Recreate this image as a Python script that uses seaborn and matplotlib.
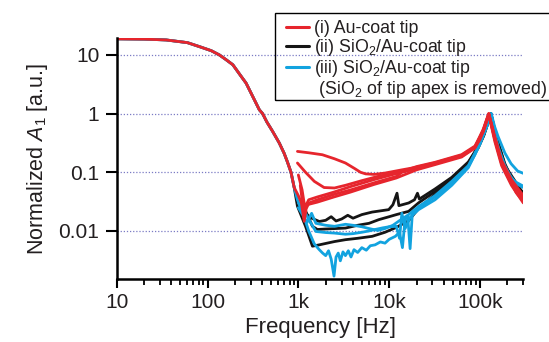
import numpy as np
import pandas as pd
import seaborn as sns
import matplotlib
matplotlib.use("Agg")
import matplotlib.pyplot as plt
from matplotlib.lines import Line2D
from matplotlib.patches import Rectangle
from matplotlib.ticker import FixedLocator, NullLocator, LogLocator

sns.set_theme(style="ticks")
plt.rcParams["font.family"] = ["Liberation Sans", "DejaVu Sans"]
plt.rcParams["mathtext.fontset"] = "custom"
plt.rcParams["mathtext.rm"] = "Liberation Sans"
plt.rcParams["mathtext.it"] = "Liberation Sans:italic"
plt.rcParams["mathtext.bf"] = "Liberation Sans:bold"

# common low-pass part (< 1 kHz)
f_lp = [10, 20, 35, 60, 82, 110, 135, 160, 190, 230, 266, 310, 372, 404, 450,
        520, 617, 698, 758, 830, 900]
a_lp = [18.8, 18.6, 18.0, 16.2, 13.8, 11.8, 10.0, 8.3, 6.8, 4.5, 3.3, 2.05, 1.16,
        1.0, 0.72, 0.5, 0.315, 0.21, 0.15, 0.1, 0.055]

# (i) Au-coat tip
f_r1 = f_lp + [1000, 1080, 1160, 1220, 1310, 1620, 2470, 3760, 6800, 12000, 13800,
               20000, 32000, 62800, 88000, 100000, 109000, 118000, 125000, 135000,
               146000, 160000, 173000, 195000, 222000, 250000, 300000]
a_r1 = a_lp + [0.04, 0.03, 0.0146, 0.024, 0.03, 0.034, 0.042, 0.05, 0.066, 0.085, 0.1,
               0.118, 0.14, 0.19, 0.27, 0.36, 0.53, 0.78, 1.0, 0.6,
               0.36, 0.22, 0.144, 0.095, 0.066, 0.045, 0.032]
f_r2 = [977, 1300, 1840, 2500, 3300, 4200, 4840, 5500, 6800, 9000, 13800, 20000, 32000,
        62800, 88000, 109000, 125000, 146000, 173000, 222000, 300000]
a_r2 = [0.227, 0.215, 0.199, 0.17, 0.144, 0.115, 0.1, 0.094, 0.092, 0.097, 0.11, 0.122,
        0.145, 0.195, 0.27, 0.55, 1.0, 0.38, 0.15, 0.07, 0.036]
f_r3 = [977, 1200, 1500, 1920, 2500, 3300, 5000, 7500, 10000, 16400, 32000, 62800,
        88000, 109000, 125000, 146000, 173000, 222000, 300000]
a_r3 = [0.144, 0.1, 0.07, 0.055, 0.054, 0.06, 0.072, 0.085, 0.093, 0.108, 0.142, 0.187,
        0.26, 0.5, 0.99, 0.36, 0.14, 0.064, 0.035]
f_r4 = [1000, 1100, 1180, 1300, 1620, 2470, 3760, 6800, 12000, 20000, 32000, 62800,
        88000, 109000, 125000, 146000, 173000, 222000, 300000]
a_r4 = [0.09, 0.05, 0.025, 0.034, 0.038, 0.046, 0.057, 0.075, 0.095, 0.125, 0.148, 0.2,
        0.28, 0.52, 0.98, 0.4, 0.16, 0.075, 0.04]
f_r5 = [1050, 1150, 1250, 1620, 2470, 3760, 6800, 12000, 20000, 32000, 62800, 88000,
        109000, 125000, 146000, 173000, 222000, 300000]
a_r5 = [0.06, 0.02, 0.028, 0.031, 0.038, 0.046, 0.062, 0.08, 0.11, 0.135, 0.182, 0.26,
        0.5, 0.96, 0.33, 0.13, 0.06, 0.03]

# (ii) SiO2/Au-coat tip
f_k1 = f_lp + [977, 1200, 1430, 1700, 2500, 3300, 4500, 6500, 9000, 12000, 16400, 21000,
               32000, 48900, 74500, 95600, 110000, 122000, 132000, 145000, 160000,
               188000, 222000, 260000, 300000]
a_k1 = a_lp + [0.0265, 0.012, 0.0055, 0.0058, 0.0066, 0.0071, 0.0075, 0.0081, 0.0095,
               0.0115, 0.015, 0.024, 0.042, 0.072, 0.14, 0.26, 0.42, 0.68, 1.0, 0.55,
               0.3, 0.14, 0.08, 0.055, 0.045]
f_k2 = [1000, 1380, 1700, 2000, 2300, 2600, 3000, 3500, 4000, 5000, 6500, 8000, 9900,
        11000, 12200, 12800, 16400, 19000, 20500, 21500, 32000, 48900, 74500, 95600,
        110000, 122000, 132000, 145000, 160000, 188000, 222000, 260000, 300000]
a_k2 = [0.025, 0.0167, 0.0145, 0.0152, 0.0175, 0.0148, 0.016, 0.0185, 0.0165, 0.019,
        0.021, 0.022, 0.0231, 0.028, 0.044, 0.027, 0.03, 0.034, 0.044, 0.035, 0.052,
        0.082, 0.15, 0.275, 0.45, 0.7, 1.0, 0.5, 0.27, 0.13, 0.075, 0.052, 0.045]
f_k3 = [1200, 1430, 1620, 2000, 3300, 4500, 6000, 7700, 10000, 12000, 16400, 21000,
        32000, 48900, 74500, 95600, 110000, 132000, 145000, 188000, 300000]
a_k3 = [0.022, 0.012, 0.0106, 0.0108, 0.0112, 0.0125, 0.0135, 0.0156, 0.0175, 0.019,
        0.0216, 0.03, 0.047, 0.078, 0.145, 0.27, 0.43, 0.98, 0.52, 0.13, 0.043]

# (iii) SiO2/Au-coat tip, SiO2 of apex removed
f_b1 = f_lp + [977, 1100, 1300, 1500, 1700, 1850, 2000, 2150, 2300, 2470, 2600, 2750,
               2900, 3100, 3300, 3550, 3800, 4100, 4500, 5000, 5600, 6200, 7000, 8000,
               9000, 10000, 11700, 13000, 14000, 15000, 16000, 17000, 18000, 21000,
               32000, 48900, 74500, 88000, 100000, 115000, 125000, 133000, 145000,
               158000, 188000, 220000, 260000, 300000]
a_b1 = a_lp + [0.034, 0.022, 0.01, 0.006, 0.0048, 0.0042, 0.0038, 0.0046, 0.0033, 0.0017,
               0.0036, 0.0042, 0.0031, 0.0044, 0.0038, 0.0046, 0.0036, 0.0048, 0.0043,
               0.0052, 0.0047, 0.0056, 0.0058, 0.0065, 0.0062, 0.0072, 0.0081, 0.0095,
               0.0052, 0.016, 0.018, 0.005, 0.02, 0.025, 0.038, 0.066, 0.127, 0.2, 0.32,
               0.55, 0.8, 1.0, 0.6, 0.41, 0.213, 0.14, 0.105, 0.096]
f_b2 = [1000, 1200, 1400, 1560, 2000, 2500, 3300, 4000, 5000, 6000, 7000, 8500, 10000,
        12000, 13000, 13800, 15000, 17000, 21000, 32000, 48900, 74500, 100000, 118000,
        133000, 146000, 160000, 188000, 222000, 260000, 300000]
a_b2 = [0.03, 0.02, 0.013, 0.0098, 0.0094, 0.0092, 0.0088, 0.009, 0.0095, 0.01, 0.0106,
        0.0113, 0.0118, 0.012, 0.0075, 0.02, 0.011, 0.017, 0.023, 0.034, 0.06, 0.12, 0.3,
        0.6, 1.0, 0.45, 0.26, 0.13, 0.08, 0.062, 0.055]
f_b3 = [1000, 1250, 1400, 1560, 2000, 2500, 3300, 4000, 5000, 6000, 7500, 9000, 11000,
        13000, 16400, 21000, 32000, 48900, 74500, 100000, 120000, 132000, 146000, 170000,
        200000, 240000, 300000]
a_b3 = [0.025, 0.014, 0.02, 0.0135, 0.0125, 0.012, 0.013, 0.0125, 0.0118, 0.011, 0.0102,
        0.011, 0.0125, 0.015, 0.019, 0.026, 0.04, 0.07, 0.13, 0.31, 0.62, 0.98, 0.42, 0.17,
        0.1, 0.07, 0.058]

tips = ["(i)", "(ii)", "(iii)"]
colors = {"(i)": "#e6252d", "(ii)": "#151515", "(iii)": "#12a3df"}
legend_labels = ["(i) Au-coat tip", "(ii) SiO$_2$/Au-coat tip",
                 "(iii) SiO$_2$/Au-coat tip", " (SiO$_2$ of tip apex is removed)"]

curves = [
    ("(ii)", "k1", f_k1, a_k1), ("(ii)", "k2", f_k2, a_k2), ("(ii)", "k3", f_k3, a_k3),
    ("(iii)", "b1", f_b1, a_b1), ("(iii)", "b2", f_b2, a_b2), ("(iii)", "b3", f_b3, a_b3),
    ("(i)", "r1", f_r1, a_r1), ("(i)", "r2", f_r2, a_r2), ("(i)", "r3", f_r3, a_r3),
    ("(i)", "r4", f_r4, a_r4), ("(i)", "r5", f_r5, a_r5),
]
rows = []
for tip, run, f, a in curves:
    for fi, ai in zip(f, a):
        rows.append({"tip": tip, "run": run, "freq": fi, "amp": ai})
df = pd.DataFrame(rows)

fig = plt.figure(figsize=(5.49, 3.42), dpi=100)
ax = fig.add_axes([0.2126, 0.1833, 0.7406, 0.7047])
ax.set_xscale("log")
ax.set_yscale("log")

sns.lineplot(data=df, x="freq", y="amp", hue="tip", units="run", estimator=None,
             sort=False, hue_order=["(ii)", "(iii)", "(i)"], palette=colors,
             lw=2.0, legend=False, ax=ax)

ax.set_xlim(10, 3e5)
ax.set_ylim(0.0015, 19.2)

ax.xaxis.set_major_locator(FixedLocator([10, 100, 1e3, 1e4, 1e5]))
ax.set_xticklabels(["10", "100", "1k", "10k", "100k"])
ax.xaxis.set_minor_locator(LogLocator(base=10, subs=np.arange(2, 10), numticks=20))
ax.yaxis.set_major_locator(FixedLocator([0.01, 0.1, 1, 10]))
ax.set_yticklabels(["0.01", "0.1", "1", "10"])
ax.yaxis.set_minor_locator(NullLocator())

txt = "#231f20"
ax.tick_params(axis="y", which="major", length=8, width=1.5, direction="out", pad=4.5,
               labelsize=15, colors="black", labelcolor=txt)
ax.tick_params(axis="x", which="major", length=6.5, width=1.5, direction="out", pad=3,
               labelsize=15, colors="black", labelcolor=txt)
ax.tick_params(axis="x", which="minor", length=4, width=1.3, direction="out",
               colors="black")

ax.grid(False)
ax.grid(axis="y", which="major", linestyle=(0, (1, 1.5)), color="#7b7bc4", lw=0.9)
ax.set_axisbelow(True)

sns.despine(ax=ax)
for s in ["left", "bottom"]:
    ax.spines[s].set_linewidth(1.8)
    ax.spines[s].set_color("black")

ax.set_xlabel("Frequency [Hz]", fontsize=16, color=txt, labelpad=4)
ax.set_ylabel("Normalized $\\mathit{A}_1$ [a.u.]", fontsize=15.5, color=txt, labelpad=6)

handles = [Line2D([], [], color=colors[t], lw=2.2) for t in tips]
handles.append(Line2D([], [], color="none"))
fig.legend(handles, legend_labels, loc="upper left", bbox_to_anchor=(286 / 549, 1 - 20 / 342),
           frameon=False, borderpad=0, borderaxespad=0, handlelength=1.32,
           handletextpad=0.25, labelspacing=0.0, fontsize=12.8, labelcolor=txt)
fig.add_artist(Rectangle((275 / 549, 1 - 100 / 342), 0.6, (100 - 12.7) / 342,
                         transform=fig.transFigure, fill=False, ec="black", lw=1))

fig.savefig("out.png", dpi=100)
